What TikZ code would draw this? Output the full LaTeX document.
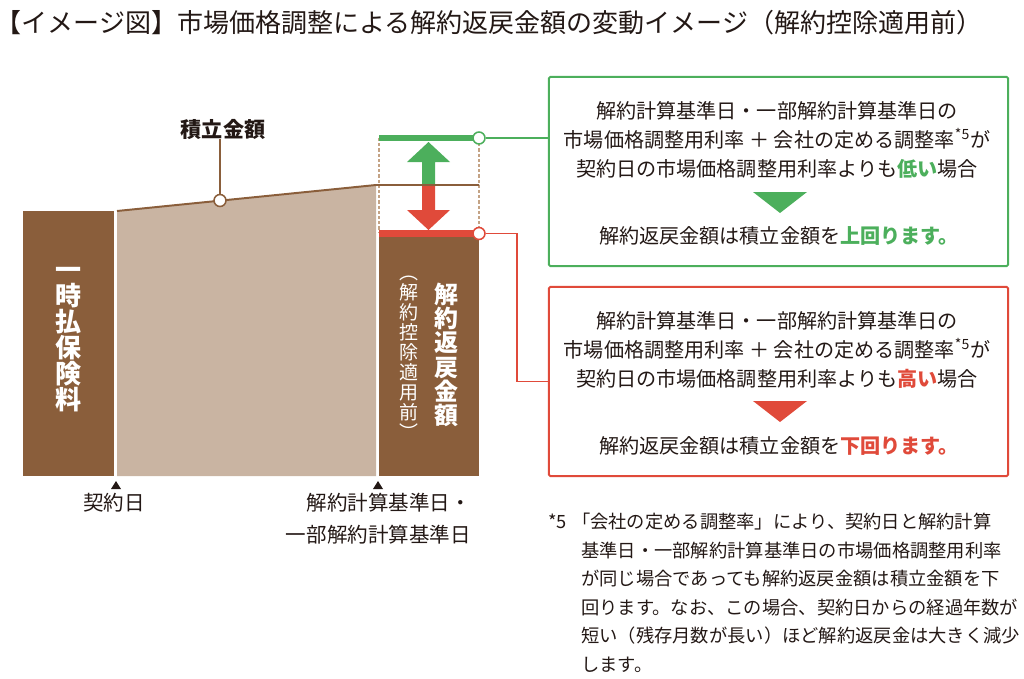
\documentclass[tikz,border=0pt]{standalone}
\usepackage{fontspec}
\setmainfont{Noto Sans CJK JP}
\usetikzlibrary{positioning}
\definecolor{barbrown}{HTML}{8A5E3B}
\definecolor{sandbrown}{HTML}{C9B4A2}
\definecolor{dashbrown}{HTML}{C4A385}
\definecolor{okgreen}{HTML}{4CAF5C}
\definecolor{ngred}{HTML}{E04A3A}
\definecolor{ink}{HTML}{231815}
\def\jfont#1#2{\fontsize{#1}{#2}\selectfont}

\begin{document}
\begin{tikzpicture}[x=0.025cm, y=-0.025cm,
	vtext/.style={text=white, align=center, inner sep=0pt},
	dot/.style={circle, fill=white, line width=1.1pt, minimum size=8.5pt, inner sep=0pt},
	casebox/.style={draw, line width=1.4pt, rounded corners=1pt, minimum width=326.5pt, minimum height=134.5pt, inner sep=0pt},
	casetext/.style={align=center, text=ink, inner sep=0pt, font=\jfont{14.3}{20.6}},
	datelabel/.style={text=ink, inner sep=0pt, font=\jfont{14.6}{22.8}}]
			%%%%% START %%%%%
			\useasboundingbox (0,0) rectangle (1024,678);
			
			\node[text=ink, inner sep=0pt, font=\jfont{18.5}{22}] (title) at (489,23) {【イメージ図】市場価格調整による解約返戻金額の変動イメージ（解約控除適用前）};
			
			% bars
			\fill[barbrown] (23,211) rectangle (114,476);
			\fill[sandbrown] (117,211) -- (376,185) -- (376,476) -- (117,476) -- cycle;
			\fill[barbrown] (379,233) rectangle (479,476);
			
			\node[vtext, font=\bfseries\jfont{18.5}{18.5}] (lumpsum) at (68.5,340) {一\\時\\払\\保\\険\\料};
			\node[vtext, font=\bfseries\jfont{17}{17.3}] (refund) at (446,355) {解\\約\\返\\戻\\金\\額};
			\node[vtext, font=\jfont{13.5}{14.2}] (refundnote) at (409,358) {︵\\解\\約\\控\\除\\適\\用\\前\\︶};
			
			% change range
			\draw[dashbrown, line width=1.05pt, dash pattern=on 2.2pt off 1.5pt] (379,138) -- (379,233);
			\draw[dashbrown, line width=1.05pt, dash pattern=on 2.2pt off 1.5pt] (479,138) -- (479,233);
			\fill[okgreen] (422,186) -- (422,162) -- (407,162) -- (428.5,142) -- (450,162) -- (435,162) -- (435,186) -- cycle;
			\fill[ngred] (422,186) -- (422,210) -- (407,210) -- (428.5,230) -- (450,210) -- (435,210) -- (435,186) -- cycle;
			\draw[barbrown, line width=1.4pt] (117,211) -- (376,185) -- (479,185);
			
			\node[dot, draw=barbrown] (acc) at (220,200.5) {};
			\node[text=ink, inner sep=0pt, font=\bfseries\jfont{15}{15}] (acclabel) at (223,129) {積立金額};
			\draw[barbrown, line width=1.1pt] (acc) -- (acc |- acclabel.south);
			
			\draw[okgreen, line width=4.3pt] (379,138) -- (479,138);
			\draw[ngred, line width=4.3pt] (379,233.5) -- (479,233.5);
			\node[dot, draw=okgreen] (updot) at (479,138) {};
			\node[dot, draw=ngred] (downdot) at (479,233.5) {};
			
			% dates
			\node[datelabel] (start) at (114,503) {契約日};
			\node[datelabel, align=right, anchor=east] (calcday) at (471,519) {解約計算基準日・\\一部解約計算基準日};
			\fill[ink] (111,489) -- (121,489) -- (116,481) -- cycle;
			\fill[ink] (373,489) -- (383,489) -- (378,481) -- cycle;
			
			% cases
			\node[casebox, draw=okgreen] (upbox) at (778.5,171.5) {};
			\node[casetext] (upcond) at (777,139.5) {解約計算基準日・一部解約計算基準日の\\市場価格調整用利率 ＋ 会社の定める調整率\textsuperscript{*5}が\\契約日の市場価格調整用利率よりも\textbf{\color{okgreen}低い}場合};
			\fill[okgreen] (753,192) -- (807,192) -- (780,213) -- cycle;
			\node[casetext] (upres) at (779,235.5) {解約返戻金額は積立金額を\textbf{\color{okgreen}上回ります。}};
			
			\node[casebox, draw=ngred] (downbox) at (778.5,381.5) {};
			\node[casetext] (downcond) at (777,349.5) {解約計算基準日・一部解約計算基準日の\\市場価格調整用利率 ＋ 会社の定める調整率\textsuperscript{*5}が\\契約日の市場価格調整用利率よりも\textbf{\color{ngred}高い}場合};
			\fill[ngred] (753,401) -- (807,401) -- (780,422) -- cycle;
			\node[casetext] (downres) at (779,445.5) {解約返戻金額は積立金額を\textbf{\color{ngred}下回ります。}};
			
			\draw[okgreen, line width=1.4pt] (updot.east) -- (updot -| upbox.west);
			\coordinate (turn) at (517,233.5);
			\draw[ngred, line width=1.4pt] (downdot.east) -- (turn) |- (downbox.west);
			
			% footnote
			\node[text=ink, inner sep=0pt, anchor=west, font=\jfont{13}{20.3}] (fnmark) at (548,521.7) {*5};
			\node[text=ink, inner sep=0pt, anchor=north west, align=left, font=\jfont{13}{20.3}] (fnote) at (581,513) {\hspace*{-0.5em}「会社の定める調整率」により、契約日と解約計算\\基準日・一部解約計算基準日の市場価格調整用利率\\が同じ場合であっても解約返戻金額は積立金額を下\\回ります。なお、この場合、契約日からの経過年数が\\短い（残存月数が長い）ほど解約返戻金は大きく減少\\します。};
			%%%%% END %%%%%
		\end{tikzpicture}
\end{document}
